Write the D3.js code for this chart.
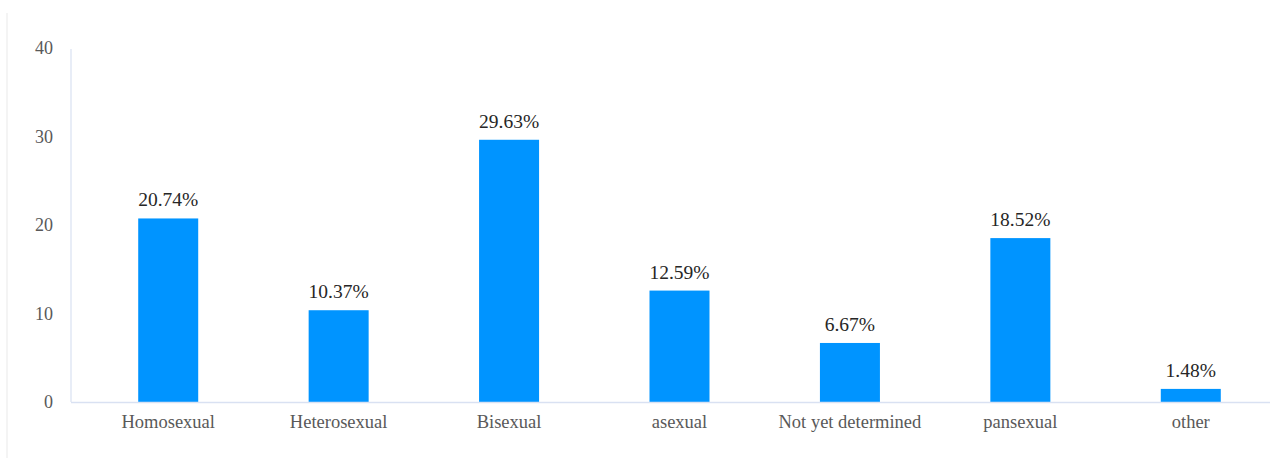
<!DOCTYPE html>
<html>
<head>
<meta charset="utf-8">
<script src="https://cdn.jsdelivr.net/npm/d3@7"></script>
<style>
  html, body { margin: 0; padding: 0; background: #ffffff; }
  svg { display: block; }
</style>
</head>
<body>
<div id="chart"></div>
<script>
const categories = ["Homosexual", "Heterosexual", "Bisexual", "asexual", "Not yet determined", "pansexual", "other"];
const values = [20.74, 10.37, 29.63, 12.59, 6.67, 18.52, 1.48];
const valueLabels = ["20.74%", "10.37%", "29.63%", "12.59%", "6.67%", "18.52%", "1.48%"];
const yTicks = [0, 10, 20, 30, 40];

const W = 1277, H = 458;
const svg = d3.select("#chart").append("svg").attr("width", W).attr("height", H);
const FONT = "'Liberation Serif', 'Times New Roman', serif";

// faint outer frame (left edge visible)
svg.append("line").attr("x1", 7).attr("x2", 7).attr("y1", 13).attr("y2", H)
  .attr("stroke", "#f0f0f0").attr("stroke-width", 1.5);

const plotLeft = 71, plotRight = 1270, plotTop = 48, plotBottom = 402;

const x = d3.scaleBand().domain(categories).range([83, 1276]).paddingInner(0).paddingOuter(0);
const y = d3.scaleLinear().domain([0, 40]).range([plotBottom, plotTop]);
const barW = 60;

// y axis line
svg.append("line").attr("x1", plotLeft).attr("x2", plotLeft)
  .attr("y1", y(40) + 1).attr("y2", y(0))
  .attr("stroke", "#d9e1f2").attr("stroke-width", 1.2);

// y tick labels
svg.selectAll(".ytick").data(yTicks).enter().append("text")
  .attr("x", 53).attr("y", d => y(d)).attr("dy", "0.35em")
  .attr("text-anchor", "end")
  .attr("font-family", FONT)
  .attr("font-size", 18).attr("fill", "#595959")
  .text(d => d);

// bars
svg.selectAll(".bar").data(values).enter().append("rect")
  .attr("x", (d, i) => x(categories[i]) + x.bandwidth() / 2 - barW / 2)
  .attr("width", barW)
  .attr("y", d => y(d))
  .attr("height", d => y(0) - y(d))
  .attr("fill", "#0094ff");

// x axis line
svg.append("line").attr("x1", plotLeft).attr("x2", plotRight)
  .attr("y1", plotBottom + 0.5).attr("y2", plotBottom + 0.5)
  .attr("stroke", "#d9e1f2").attr("stroke-width", 1.5);

// value labels
svg.selectAll(".vl").data(values).enter().append("text")
  .attr("x", (d, i) => x(categories[i]) + x.bandwidth() / 2)
  .attr("y", d => y(d) - 12)
  .attr("text-anchor", "middle")
  .attr("font-family", FONT)
  .attr("font-size", 19.5).attr("fill", "#262626")
  .text((d, i) => valueLabels[i]);

// category labels
svg.selectAll(".cl").data(categories).enter().append("text")
  .attr("x", d => x(d) + x.bandwidth() / 2)
  .attr("y", 428)
  .attr("text-anchor", "middle")
  .attr("font-family", FONT)
  .attr("font-size", 18.5).attr("fill", "#595959")
  .text(d => d);
</script>
</body>
</html>
